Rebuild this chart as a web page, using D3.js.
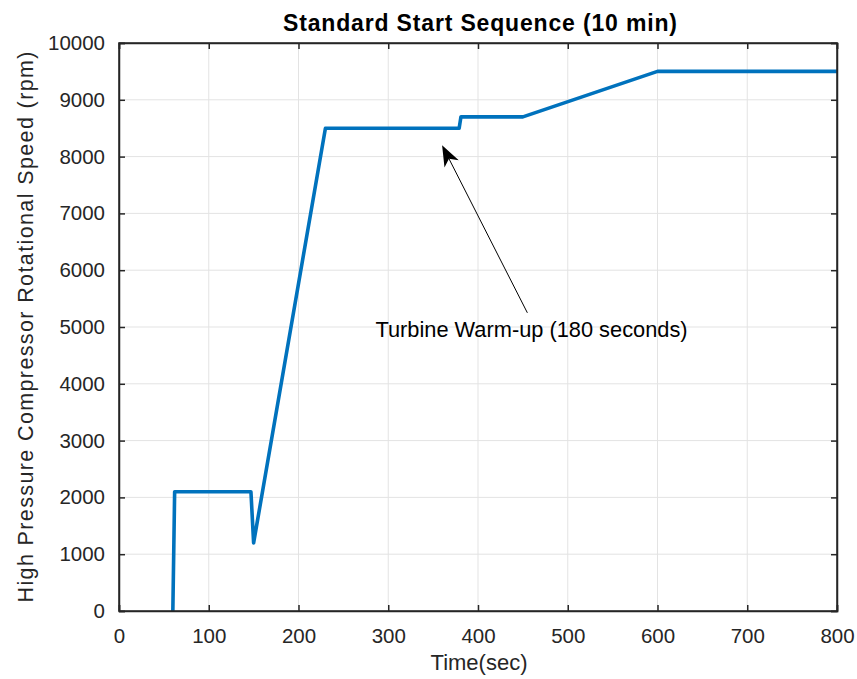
<!DOCTYPE html>
<html><head><meta charset="utf-8">
<script src="https://cdn.jsdelivr.net/npm/d3@7"></script>
<style>body{margin:0;background:#fff}svg{display:block}</style>
</head><body>
<script>
const timeSec = [60, 62, 147, 150, 230, 379, 381, 450, 600, 800];
const speedRpm = [0, 2100, 2100, 1200, 8500, 8500, 8700, 8700, 9500, 9500];
const xTicks = [0,100,200,300,400,500,600,700,800];
const yTicks = [0,1000,2000,3000,4000,5000,6000,7000,8000,9000,10000];
const annotationText = "Turbine Warm-up (180 seconds)";
const arrowTip = [360, 8200];
const arrowTail = [455, 5250];
const titleText = "Standard Start Sequence (10 min)";
const xLabel = "Time(sec)";
const yLabel = "High Pressure Compressor Rotational Speed (rpm)";

const W = 857, H = 679;
const m = {left:119, right:837, top:43, bottom:611};
const FF = "'Liberation Sans', Arial, Helvetica, sans-serif";
const svg = d3.select("body").append("svg").attr("width",W).attr("height",H)
  .style("font-family",FF);
const x = d3.scaleLinear().domain([0,800]).range([m.left,m.right]);
const y = d3.scaleLinear().domain([0,10000]).range([m.bottom,m.top]);
const ax = "#262626";

// grid
svg.append("g").selectAll("line").data(xTicks).join("line")
  .attr("x1",d=>x(d)).attr("x2",d=>x(d)).attr("y1",m.top).attr("y2",m.bottom)
  .attr("stroke","#e3e3e3").attr("stroke-width",1);
svg.append("g").selectAll("line").data(yTicks).join("line")
  .attr("y1",d=>y(d)).attr("y2",d=>y(d)).attr("x1",m.left).attr("x2",m.right)
  .attr("stroke","#e3e3e3").attr("stroke-width",1);

// data line
svg.append("path").datum(timeSec.map((t,i)=>[t,speedRpm[i]]))
  .attr("d", d3.line().x(d=>x(d[0])).y(d=>y(d[1])))
  .attr("fill","none").attr("stroke","#0072BD").attr("stroke-width",3.6)
  .attr("stroke-linejoin","round");

// axes
const xAxis = d3.axisBottom(x).tickValues(xTicks).tickSize(-6).tickPadding(17).tickFormat(d3.format("d"));
const gx = svg.append("g").attr("transform",`translate(0,${m.bottom})`).call(xAxis);
const yAxis = d3.axisLeft(y).tickValues(yTicks).tickSize(-6).tickPadding(14).tickFormat(d3.format("d"));
const gy = svg.append("g").attr("transform",`translate(${m.left},0)`).call(yAxis);
const gx2 = svg.append("g").attr("transform",`translate(0,${m.top})`).call(d3.axisTop(x).tickValues(xTicks).tickSize(-6).tickFormat(""));
const gy2 = svg.append("g").attr("transform",`translate(${m.right},0)`).call(d3.axisRight(y).tickValues(yTicks).tickSize(-6).tickFormat(""));
[gx,gy,gx2,gy2].forEach(g=>{
  g.select(".domain").attr("stroke",ax).attr("stroke-width",1.5);
  g.selectAll(".tick line").attr("stroke",ax).attr("stroke-width",1.5);
  g.selectAll(".tick text").attr("fill",ax).style("font-size","20.5px").style("font-family",FF);
});
svg.append("rect").attr("x",m.left).attr("y",m.top).attr("width",m.right-m.left).attr("height",m.bottom-m.top)
  .attr("fill","none").attr("stroke",ax).attr("stroke-width",1.5);

// labels
svg.append("text").attr("x",480).attr("y",30.5).attr("text-anchor","middle")
  .attr("font-weight","bold").attr("font-size","23px").attr("fill","#000")
  .attr("textLength",394).attr("lengthAdjust","spacing").text(titleText);
svg.append("text").attr("x",479).attr("y",669.5).attr("text-anchor","middle")
  .attr("font-size","22px").attr("fill",ax).text(xLabel);
svg.append("text").attr("transform",`translate(33,${(m.top+m.bottom)/2}) rotate(-90)`).attr("text-anchor","middle")
  .attr("font-size","21.5px").attr("fill",ax)
  .attr("textLength",551).attr("lengthAdjust","spacing").text(yLabel);

// annotation arrow
const tx = x(arrowTip[0]), ty = y(arrowTip[1]);
const sx = x(arrowTail[0]), sy = y(arrowTail[1]);
const ang = Math.atan2(ty-sy, tx-sx);
const L = 21, Wd = 8;
const bx = tx - L*Math.cos(ang), by = ty - L*Math.sin(ang);
const px = -Math.sin(ang), py = Math.cos(ang);
const bx2 = tx - 0.72*L*Math.cos(ang), by2 = ty - 0.72*L*Math.sin(ang);
svg.append("line").attr("x1",sx).attr("y1",sy).attr("x2",bx2).attr("y2",by2).attr("stroke","#000").attr("stroke-width",1);
svg.append("path").attr("d",`M${tx},${ty} L${bx+px*Wd},${by+py*Wd} L${bx2},${by2} L${bx-px*Wd},${by-py*Wd} Z`).attr("fill","#000");
svg.append("text").attr("x",531.5).attr("y",336.5).attr("text-anchor","middle")
  .attr("font-size","21.8px").attr("fill","#000").text(annotationText);
</script>
</body></html>
